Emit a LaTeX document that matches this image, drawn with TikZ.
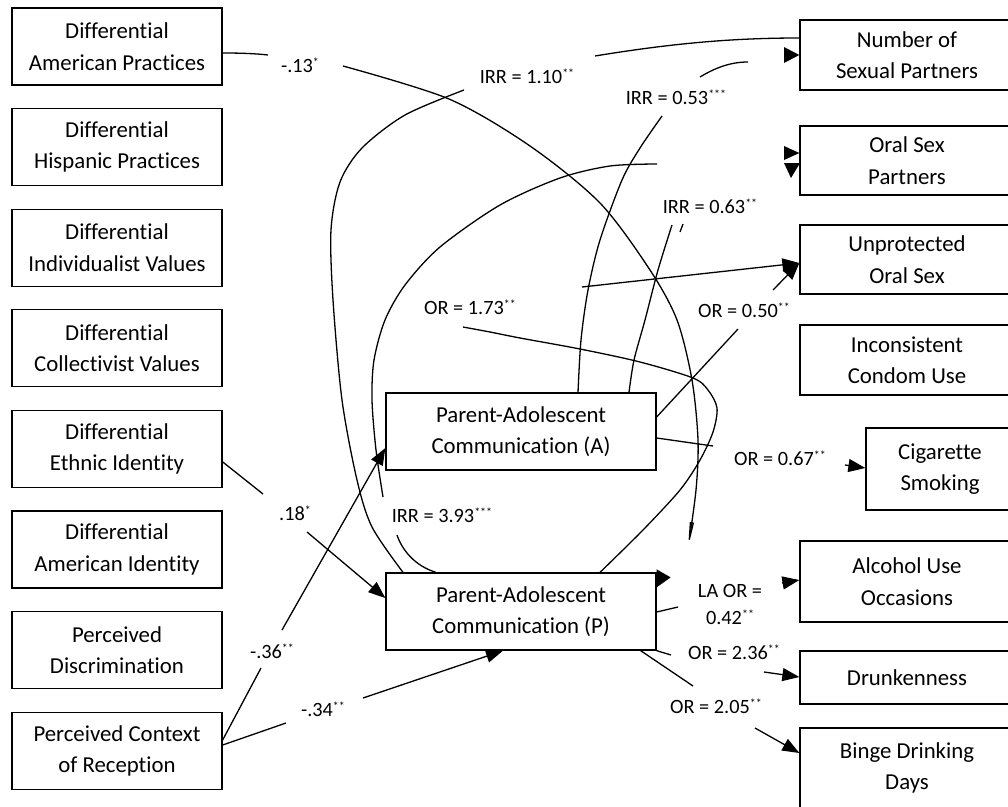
\documentclass[tikz,border=0pt]{standalone}
\usepackage{fontspec}
\setmainfont{Carlito}[Ligatures=CommonOff]
\usetikzlibrary{arrows.meta}
\newcommand\mysig[1]{\raisebox{6.5pt}[0pt][0pt]{\fontsize{12}{12}\selectfont #1}}
\begin{document}
\begin{tikzpicture}[x=1pt,y=-1pt,
  box/.style={draw, line width=1.3pt, minimum height=77pt, inner sep=0pt, align=center, font=\fontsize{22.8}{31.5}\selectfont},
  lbl/.style={inner sep=0pt, align=center, font=\fontsize{20.3}{27}\selectfont},
  conn/.style={line width=1.3pt},
  arr/.style={line width=1.3pt, -{Triangle[length=17pt,width=13pt]}},
  thinarr/.style={line width=1.3pt, -{Triangle[open,length=26pt,width=4pt]}}
]
\clip (0,0) rectangle (1008,806);
\fill[white] (0,0) rectangle (1008,806);

% left boxes
\node[box, minimum width=210pt] (dap) at (117,46.5) {Differential\\American Practices};
\node[box, minimum width=210pt] (dhp) at (117,147.1) {Differential\\Hispanic Practices};
\node[box, minimum width=210pt] (div) at (117,247.7) {Differential\\Individualist Values};
\node[box, minimum width=210pt] (dcv) at (117,348.3) {Differential\\Collectivist Values};
\node[box, minimum width=210pt] (dei) at (117,448.9) {Differential\\Ethnic Identity};
\node[box, minimum width=210pt] (dai) at (117,549.5) {Differential\\American Identity};
\node[box, minimum width=210pt] (pd)  at (117,650.1) {Perceived\\Discrimination};
\node[box, minimum width=210pt] (pcr) at (117,750.7) {Perceived Context\\of Reception};

% middle boxes
\node[box, minimum width=270pt] (A) at (521,431.5) {Parent-Adolescent\\Communication (A)};
\node[box, minimum width=270pt] (P) at (521,611.5) {Parent-Adolescent\\Communication (P)};

% right boxes
\node[box, minimum width=214pt, minimum height=70pt] (nsp) at (907,55) {Number of\\Sexual Partners};
\node[box, minimum width=214pt, minimum height=69pt] (osp) at (907,160.5) {Oral Sex\\Partners};
\node[box, minimum width=214pt, minimum height=69pt] (uos) at (907,259.5) {Unprotected\\Oral Sex};
\node[box, minimum width=214pt, minimum height=70pt] (icu) at (907,360) {Inconsistent\\Condom Use};
\node[box, minimum width=148pt, minimum height=82pt] (cig) at (940,469) {Cigarette\\Smoking};
\node[box, minimum width=214pt, minimum height=81pt] (alc) at (907,581.5) {Alcohol Use\\Occasions};
\node[box, minimum width=214pt, minimum height=53pt] (dru) at (907,677.5) {Drunkenness};
\node[box, minimum width=214pt, minimum height=80pt] (bin) at (907,768) {Binge Drinking\\Days};

% labels
\node[lbl] (l13)  at (300,66)  {-.13\mysig{*}};
\node[lbl] (l110) at (527,77)  {IRR = 1.10\mysig{**}};
\node[lbl] (l053) at (676,98)  {IRR = 0.53\mysig{***}};
\node[lbl] (l063) at (710,207) {IRR = 0.63\mysig{**}};
\node[lbl] (l173) at (470,308) {OR = 1.73\mysig{**}};
\node[lbl] (l050) at (744,311) {OR = 0.50\mysig{**}};
\node[lbl] (l067) at (780,459) {OR = 0.67\mysig{**}};
\node[lbl] (l393) at (442,516) {IRR = 3.93\mysig{***}};
\node[lbl] (l18)  at (295,514) {.18\mysig{*}};
\node[lbl] (l36)  at (272,652) {-.36\mysig{**}};
\node[lbl] (l34)  at (323,710) {-.34\mysig{**}};
\node[lbl] (l042) at (730,604.5) {LA OR =\\0.42\mysig{**}};
\node[lbl] (l236) at (734,653) {OR = 2.36\mysig{**}};
\node[lbl] (l205) at (716,707) {OR = 2.05\mysig{**}};

% free-end coordinates
\coordinate (c13a) at (268,55);
\coordinate (c13b) at (343,66);
\coordinate (c13e) at (688,548);
\coordinate (c110a) at (464,90);
\coordinate (c110b) at (595,56);
\coordinate (c053a) at (662,116);
\coordinate (c053b) at (700,77);
\coordinate (c053c) at (748,62);
\coordinate (c063a) at (672,225);
\coordinate (c393a) at (397,535);
\coordinate (c393b) at (383,497);
\coordinate (c393c) at (657,164);
\coordinate (c173a) at (463,327);
\coordinate (c173b) at (582,287);
\coordinate (c050a) at (738,329);
\coordinate (c050b) at (773,290);
\coordinate (c067a) at (713,446);
\coordinate (c067b) at (845,465);
\coordinate (c042a) at (678,607);
\coordinate (c042b) at (782,583);
\coordinate (c236a) at (671,655);
\coordinate (c236b) at (764,672);
\coordinate (c205a) at (693,686);
\coordinate (c205b) at (755,728);
\coordinate (c18a) at (263,494);
\coordinate (c18b) at (307,532);
\coordinate (c36a) at (261,668);
\coordinate (c36b) at (282,630);
\coordinate (c34a) at (286,723);
\coordinate (c34b) at (363,698);

% -.13
\draw[conn] ([yshift=-6.5pt]dap.east) .. controls (240,53) and (255,53.5) .. (c13a);
\draw[thinarr] plot[smooth] coordinates {(c13b) (449,99) (530,146) (600,203) (650,270) (677,320) (692,380) (698,440) (696,490) (c13e)};

% IRR = 1.10
\draw[conn] plot[smooth] coordinates {([xshift=-118pt]P.north) (372,527) (357,480) (342,400) (333,300) (331,230) (340,182) (362,148) (405,115) (c110a)};
\draw[conn] (c110b) .. controls (680,42) and (740,38) .. ([yshift=17pt]nsp.west);

% IRR = 0.53
\draw[conn] plot[smooth] coordinates {([xshift=57pt]A.north) (581,340) (588,290) (600,240) (622,180) (640,148) (c053a)};
\draw[conn] (c053b) .. controls (715,68) and (730,62) .. (c053c);
\fill (784,47) -- (nsp.west) -- (784,63) -- cycle;

% IRR = 0.63
\draw[conn] plot[smooth] coordinates {([xshift=108pt]A.north) (634,360) (645,320) (658,270) (c063a)};
\draw[conn] (683,224) -- (680,232);

% IRR = 3.93
\draw[conn] ([xshift=-85pt]P.north) .. controls (415,566) and (402,550) .. (c393a);
\draw[conn] plot[smooth] coordinates {(c393b) (376,450) (372,400) (374,360) (385,320) (405,285) (440,247) (500,205) (560,178) (610,166) (c393c)};
\fill (784,146) -- ([yshift=7.5pt]osp.west) -- (784,160) -- cycle;
\fill (784,163) -- (800,163) -- (791,178) -- cycle;

% OR = 1.73
\draw[conn] plot[smooth] coordinates {([xshift=79pt]P.north) (643,530) (680,490) (700,460) (713,432) (717,408) (708,390) (693,378) (640,362) (580,349) (520,338) (490,332) (c173a)};
\draw[arr] (c173b) -- ([yshift=-3.5pt]uos.west);

% OR = 0.50
\draw[conn] ([yshift=14.5pt]A.east) -- (c050a);
\draw[arr] (c050b) -- ([yshift=-3.5pt]uos.west);

% OR = 0.67
\draw[conn] ([yshift=-6.5pt]A.east) -- (c067a);
\draw[arr] (c067b) -- ([yshift=1pt]cig.west);

% P outputs
\fill ([yshift=3pt]P.north east) -- ++(14,8) -- ++(-14,10) -- cycle;
\draw[conn] ([yshift=-0.5pt]P.east) -- (c042a);
\draw[arr] (c042b) -- ([yshift=1.5pt]alc.west);
\draw[conn] (P.south east) -- (c236a);
\draw[arr] (c236b) -- ([yshift=0.5pt]dru.west);
\draw[conn] ([xshift=-16pt]P.south east) -- (c205a);
\draw[arr] (c205b) -- ([yshift=15pt]bin.west);

% inputs
\draw[conn] ([yshift=-13pt]dei.east) -- (c18a);
\draw[arr] (c18b) -- ([yshift=13.5pt]P.west);
\draw[conn] ([yshift=10.7pt]pcr.east) -- (c36a);
\draw[arr] (c36b) -- ([yshift=-16.5pt]A.west);
\draw[conn] ([yshift=5.7pt]pcr.east) -- (c34a);
\draw[arr] (c34b) -- ([xshift=-18pt]P.south);
\end{tikzpicture}
\end{document}
